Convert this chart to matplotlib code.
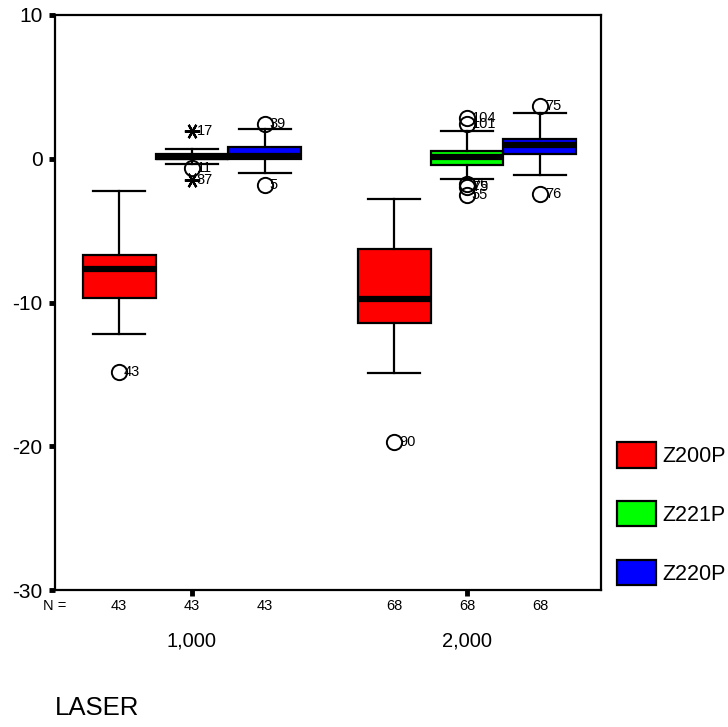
import numpy as np
import matplotlib
matplotlib.use("Agg")
import matplotlib.pyplot as plt
from matplotlib.patches import Patch

plt.rcParams["font.family"] = ["Liberation Sans", "DejaVu Sans"]
plt.rcParams["axes.unicode_minus"] = False

OUT_PNG = "out.png"

# Groups on the x axis and the three variables boxed in each group
GROUPS = ["1,000", "2,000"]
SERIES = ["Z200P", "Z221P", "Z220P"]
COLORS = ["#ff0000", "#00ff00", "#0000ff"]
N_COUNTS = [43, 68]

# Box summaries, ordered group by group: (Z200P, Z221P, Z220P) x (1,000, 2,000)
BOX_WHISHI = [-2.24, 0.67, 2.07, -2.80, 1.95, 3.20]
BOX_Q3 = [-6.70, 0.30, 0.84, -6.28, 0.54, 1.40]
BOX_MED = [-7.65, 0.15, 0.20, -9.74, 0.10, 0.96]
BOX_Q1 = [-9.69, 0.00, -0.02, -11.41, -0.46, 0.31]
BOX_WHISLO = [-12.19, -0.39, -0.97, -14.88, -1.41, -1.13]

# Outlying cases: which box, value, case number, extreme (*) or not (o)
OUT_BOX = [0, 1, 1, 1, 2, 2, 3, 4, 4, 4, 4, 4, 5, 5]
OUT_VALUE = [-14.8, 1.93, -0.66, -1.48, 2.42, -1.83, -19.7,
             2.81, 2.40, -1.78, -1.95, -2.52, 3.69, -2.47]
OUT_CASE = ["43", "17", "11", "87", "39", "5", "90",
            "104", "101", "76", "75", "55", "75", "76"]
OUT_EXTREME = [False, True, False, True, False, False, False,
               False, False, False, False, False, False, False]

BOX_W = 0.265
OFFSETS = [-0.265, 0.0, 0.265]


def box_positions():
    pos = []
    for g in range(len(GROUPS)):
        for off in OFFSETS:
            pos.append(g + 1 + off)
    return pos


def main():
    fig = plt.figure(figsize=(7.28, 7.27), dpi=100)
    ax = fig.add_axes([55 / 728, 137 / 727, 546 / 728, 575 / 727])

    pos = box_positions()
    stats = []
    for i in range(len(pos)):
        stats.append(dict(med=BOX_MED[i], q1=BOX_Q1[i], q3=BOX_Q3[i],
                          whislo=BOX_WHISLO[i], whishi=BOX_WHISHI[i],
                          fliers=[]))

    bp = ax.bxp(stats, positions=pos, widths=BOX_W, capwidths=0.19,
                patch_artist=True, showfliers=False,
                boxprops=dict(edgecolor="black", linewidth=1.6),
                medianprops=dict(color="black", linewidth=4.5,
                                 solid_capstyle="butt"),
                whiskerprops=dict(color="black", linewidth=1.6),
                capprops=dict(color="black", linewidth=1.6))
    for i, patch in enumerate(bp["boxes"]):
        patch.set_facecolor(COLORS[i % len(SERIES)])

    # outliers and extremes with their case numbers
    for b, v, case, ext in zip(OUT_BOX, OUT_VALUE, OUT_CASE, OUT_EXTREME):
        x = pos[b]
        if ext:
            ax.plot(x, v, marker=(6, 2, 90), markersize=11, color="black",
                    markeredgewidth=1.6, linestyle="none", zorder=5)
        else:
            ax.plot(x, v, marker="o", markersize=11, markerfacecolor="none",
                    markeredgecolor="black", markeredgewidth=1.4,
                    linestyle="none", zorder=5)
        ax.annotate(case, (x, v), xytext=(3.5, 0), textcoords="offset points",
                    ha="left", va="center", fontsize=10.5, zorder=6)

    ax.set_ylim(-30, 10)
    ax.set_xlim(0.502, 2.487)
    ax.set_yticks([-30, -20, -10, 0, 10])
    ax.set_xticks([1, 2])
    ax.set_xticklabels(GROUPS)
    ax.tick_params(axis="y", length=4, width=3.5, labelsize=15, pad=5)
    ax.tick_params(axis="x", length=4, width=3.5, labelsize=14.5, pad=26)
    for sp in ax.spines.values():
        sp.set_linewidth(1.6)

    # N row under the axis
    trans = ax.get_xaxis_transform()
    ax.text(0.545, -0.028, "N =", transform=trans, ha="right", va="center",
            fontsize=10.5, clip_on=False)
    for i, x in enumerate(pos):
        ax.text(x, -0.028, str(N_COUNTS[i // len(SERIES)]), transform=trans,
                ha="center", va="center", fontsize=10.5, clip_on=False)

    fig.text(55 / 728, 1 - 708 / 727, "LASER", ha="left", va="center",
             fontsize=18.5)

    handles = [Patch(facecolor=c, edgecolor="black", linewidth=1.6)
               for c in COLORS]
    fig.legend(handles, SERIES, loc="upper left",
               bbox_to_anchor=(617 / 728, 1 - 442 / 727), frameon=False,
               fontsize=15.5, borderpad=0, borderaxespad=0,
               handlelength=1.8, handleheight=1.45, handletextpad=0.3,
               labelspacing=1.55)

    fig.savefig(OUT_PNG, dpi=100)


if __name__ == "__main__":
    main()
